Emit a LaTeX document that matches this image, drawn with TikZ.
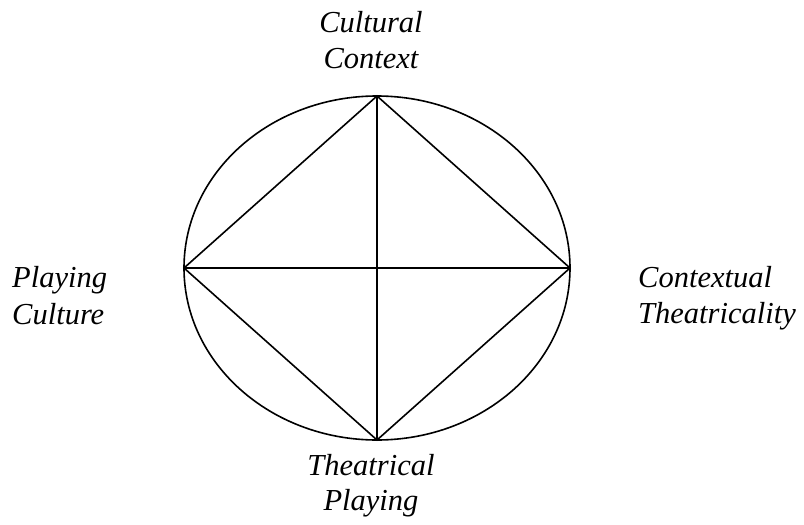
\documentclass[tikz,border=0pt]{standalone}
\usepackage{fontspec}
\setmainfont{Liberation Serif}
\begin{document}
\begin{tikzpicture}[x=1pt,y=-1pt,
  lab/.style={inner sep=0pt,font=\fontsize{30.5}{36}\selectfont\itshape,anchor=base},
  edge/.style={line width=1.6pt}]
\useasboundingbox (0,0) rectangle (804,525);
\coordinate (O) at (377,268);
\coordinate (T) at (377,96);
\coordinate (B) at (377,440);
\coordinate (L) at (184,268);
\coordinate (R) at (570,268);
\draw[edge] (O) ellipse [x radius=193, y radius=172];
\draw[edge] (T) -- (R) -- (B) -- (L) -- cycle;
\draw[edge] (T) -- (B);
\draw[edge] (L) -- (R);
\node[lab] (cc1) at (371,32) {Cultural};
\node[lab] (cc2) at (371,68) {Context};
\node[lab,anchor=base west] (pc1) at (12,287) {Playing};
\node[lab,anchor=base west] (pc2) at (12,324) {Culture};
\node[lab,anchor=base west] (ct1) at (638,287) {Contextual};
\node[lab,anchor=base west] (ct2) at (638,323) {Theatricality};
\node[lab] (tp1) at (371,475) {Theatrical};
\node[lab] (tp2) at (371,510) {Playing};
\end{tikzpicture}
\end{document}
